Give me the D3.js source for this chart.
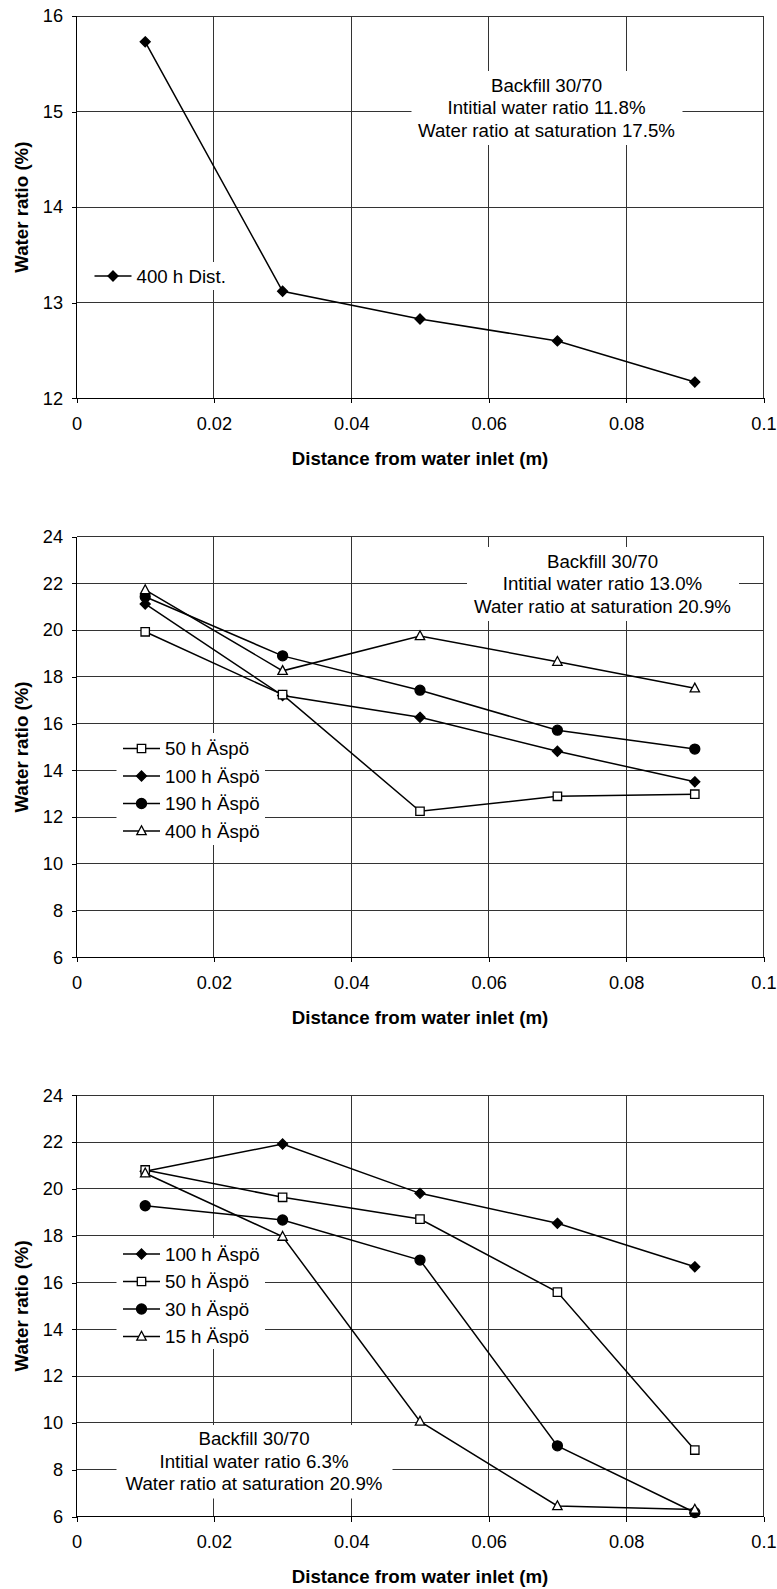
<!DOCTYPE html>
<html><head><meta charset="utf-8">
<script src="https://cdn.jsdelivr.net/npm/d3@7"></script>
<style>
body{margin:0;background:#fff;}
text{font-family:"Liberation Sans",Arial,sans-serif;fill:#000;}
</style></head>
<body>
<svg id="chart" width="777" height="1589"></svg>
<script>
// ---------- DATA ----------
const distances = [0.01, 0.03, 0.05, 0.07, 0.09];
const xTicks = [0, 0.02, 0.04, 0.06, 0.08, 0.1];
const xTickLabels = ["0", "0.02", "0.04", "0.06", "0.08", "0.1"];

// Chart 1
const c1Names = ["400 h Dist."];
const c1Dist400 = [15.73, 13.12, 12.83, 12.60, 12.17];
const c1YTicks = [12, 13, 14, 15, 16];
const c1Note = ["Backfill 30/70", "Intitial water ratio 11.8%", "Water ratio at saturation 17.5%"];

// Chart 2
const c2Names = ["50 h Äspö", "100 h Äspö", "190 h Äspö", "400 h Äspö"];
const c2Aspo50 = [19.93, 17.24, 12.25, 12.89, 12.98];
const c2Aspo100 = [21.12, 17.20, 16.27, 14.82, 13.51];
const c2Aspo190 = [21.43, 18.90, 17.43, 15.72, 14.91];
const c2Aspo400 = [21.72, 18.26, 19.75, 18.65, 17.51];
const c2YTicks = [6, 8, 10, 12, 14, 16, 18, 20, 22, 24];
const c2Note = ["Backfill 30/70", "Intitial water ratio 13.0%", "Water ratio at saturation 20.9%"];

// Chart 3
const c3Names = ["100 h Äspö", "50 h Äspö", "30 h Äspö", "15 h Äspö"];
const c3Aspo100 = [20.75, 21.92, 19.81, 18.53, 16.67];
const c3Aspo50 = [20.81, 19.64, 18.71, 15.59, 8.84];
const c3Aspo30 = [19.28, 18.67, 16.96, 9.02, 6.17];
const c3Aspo15 = [20.67, 17.96, 10.06, 6.45, 6.30];
const c3YTicks = [6, 8, 10, 12, 14, 16, 18, 20, 22, 24];
const c3Note = ["Backfill 30/70", "Intitial water ratio 6.3%", "Water ratio at saturation 20.9%"];

const xTitle = "Distance from water inlet (m)";
const yTitle = "Water ratio (%)";

// ---------- DRAWING ----------
const svg = d3.select("#chart");
const FS = 18.7;
const TFS = 18.2;

function markerPath(type){
  switch(type){
    case "diamond": return "M0,-5L5,0L0,5L-5,0Z";
    case "square": return "M-4.2,-4.2H4.2V4.2H-4.2Z";
    case "circle": return d3.symbol(d3.symbolCircle, Math.PI*25)();
    case "triangle": return "M0,-5.2L4.7,3.6L-4.7,3.6Z";
  }
}
function markerFill(type){ return (type==="square"||type==="triangle") ? "#fff" : "#000"; }

function drawChart(cfg){
  const g = svg.append("g");
  const x = d3.scaleLinear().domain([0, 0.1]).range([76.5, 763.5]);
  const y = d3.scaleLinear().domain([cfg.yTicks[0], cfg.yTicks[cfg.yTicks.length-1]]).range([cfg.bottom, cfg.top]);

  // grid
  const grid = g.append("g").attr("stroke", "#333").attr("stroke-width", 1).attr("shape-rendering","crispEdges");
  grid.selectAll(".hg").data(cfg.yTicks).join("line")
    .attr("x1", x(0)).attr("x2", x(0.1)).attr("y1", d=>y(d)).attr("y2", d=>y(d));
  grid.selectAll(".vg").data(xTicks).join("line")
    .attr("y1", y.range()[1]).attr("y2", y.range()[0]).attr("x1", d=>x(d)).attr("x2", d=>x(d));

  // axes
  const xa = g.append("g").attr("transform", `translate(0,${cfg.bottom})`)
    .call(d3.axisBottom(x).tickValues(xTicks).tickFormat((d,i)=>xTickLabels[i]).tickSize(5).tickPadding(14));
  const ya = g.append("g").attr("transform", `translate(${x(0)},0)`)
    .call(d3.axisLeft(y).tickValues(cfg.yTicks).tickFormat(d3.format("d")).tickSize(5).tickPadding(8.5));
  [xa, ya].forEach(a=>{
    a.selectAll("path,line").attr("stroke","#000").attr("shape-rendering","crispEdges");
    a.selectAll("text").attr("font-size", TFS).attr("font-family", '"Liberation Sans",Arial,sans-serif').attr("fill","#000");
  });
  xa.select(".domain").remove();
  ya.select(".domain").remove();
  g.append("line").attr("x1", x(0)).attr("x2", x(0.1)).attr("y1", cfg.bottom).attr("y2", cfg.bottom).attr("stroke","#000").attr("shape-rendering","crispEdges");
  g.append("line").attr("x1", x(0)).attr("x2", x(0)).attr("y1", cfg.top).attr("y2", cfg.bottom).attr("stroke","#000").attr("shape-rendering","crispEdges");

  // titles
  g.append("text").attr("x", (x(0)+x(0.1))/2).attr("y", cfg.bottom + 60).attr("dy","0.35em")
    .attr("text-anchor","middle").attr("font-weight","bold").attr("font-size", FS).text(xTitle);
  g.append("text").attr("transform", `translate(21,${(cfg.top+cfg.bottom)/2}) rotate(-90)`).attr("dy","0.35em")
    .attr("text-anchor","middle").attr("font-weight","bold").attr("font-size", FS).text(yTitle);

  // note box
  const nb = cfg.noteBox;
  g.append("rect").attr("x", nb[0]).attr("y", nb[1]).attr("width", nb[2]-nb[0]).attr("height", nb[3]-nb[1]).attr("fill","#fff");
  const note = g.append("text").attr("text-anchor","middle").attr("font-size", FS);
  cfg.note.forEach((t,i)=>{
    note.append("tspan").attr("x", cfg.noteX).attr("y", cfg.noteY + i*22.5).attr("dy","0.35em").text(t);
  });

  // legend box
  const lb = cfg.legendBox;
  g.append("rect").attr("x", lb[0]).attr("y", lb[1]).attr("width", lb[2]-lb[0]).attr("height", lb[3]-lb[1]).attr("fill","#fff");

  const line = d3.line().x((d,i)=>x(distances[i])).y(d=>y(d));
  // lines
  cfg.series.forEach(s=>{
    g.append("path").datum(s.values).attr("d", line).attr("fill","none").attr("stroke","#000").attr("stroke-width",1.5);
  });
  // markers
  cfg.markerOrder.forEach(k=>{
    const s = cfg.series[k];
    g.append("g").selectAll("path").data(s.values).join("path")
      .attr("transform",(d,i)=>`translate(${x(distances[i])},${y(d)})`)
      .attr("d", markerPath(s.marker)).attr("fill", markerFill(s.marker))
      .attr("stroke","#000").attr("stroke-width",1.3);
  });

  // legend entries
  cfg.series.forEach((s,i)=>{
    const ly = cfg.legendY + i*27.5;
    const lx = cfg.legendX;
    g.append("line").attr("x1", lx).attr("x2", lx+37).attr("y1", ly).attr("y2", ly).attr("stroke","#000").attr("stroke-width",1.5);
    g.append("path").attr("transform",`translate(${lx+18.5},${ly})`).attr("d", markerPath(s.marker))
      .attr("fill", markerFill(s.marker)).attr("stroke","#000").attr("stroke-width",1.3);
    g.append("text").attr("x", lx+42).attr("y", ly).attr("dy","0.35em").attr("font-size", FS).text(s.name);
  });
}

drawChart({
  top: 16, bottom: 398.3, yTicks: c1YTicks,
  series: [{name: c1Names[0], values: c1Dist400, marker: "diamond"}],
  markerOrder: [0],
  note: c1Note, noteX: 546.5, noteY: 85, noteBox: [411.5, 71, 682.5, 145],
  legendBox: [88, 262, 232, 290], legendX: 94.5, legendY: 276
});

drawChart({
  top: 536.7, bottom: 957.3, yTicks: c2YTicks,
  series: [
    {name: c2Names[0], values: c2Aspo50, marker: "square"},
    {name: c2Names[1], values: c2Aspo100, marker: "diamond"},
    {name: c2Names[2], values: c2Aspo190, marker: "circle"},
    {name: c2Names[3], values: c2Aspo400, marker: "triangle"}
  ],
  markerOrder: [1, 2, 0, 3],
  note: c2Note, noteX: 602.5, noteY: 561, noteBox: [467, 547, 739, 621],
  legendBox: [116.5, 733, 265, 845], legendX: 123, legendY: 748.5
});

drawChart({
  top: 1095.3, bottom: 1516.5, yTicks: c3YTicks,
  series: [
    {name: c3Names[0], values: c3Aspo100, marker: "diamond"},
    {name: c3Names[1], values: c3Aspo50, marker: "square"},
    {name: c3Names[2], values: c3Aspo30, marker: "circle"},
    {name: c3Names[3], values: c3Aspo15, marker: "triangle"}
  ],
  markerOrder: [0, 1, 2, 3],
  note: c3Note, noteX: 254, noteY: 1438.5, noteBox: [116.5, 1425, 392.5, 1498.5],
  legendBox: [116.5, 1238, 265, 1349], legendX: 123, legendY: 1254
});
</script>
</body></html>
